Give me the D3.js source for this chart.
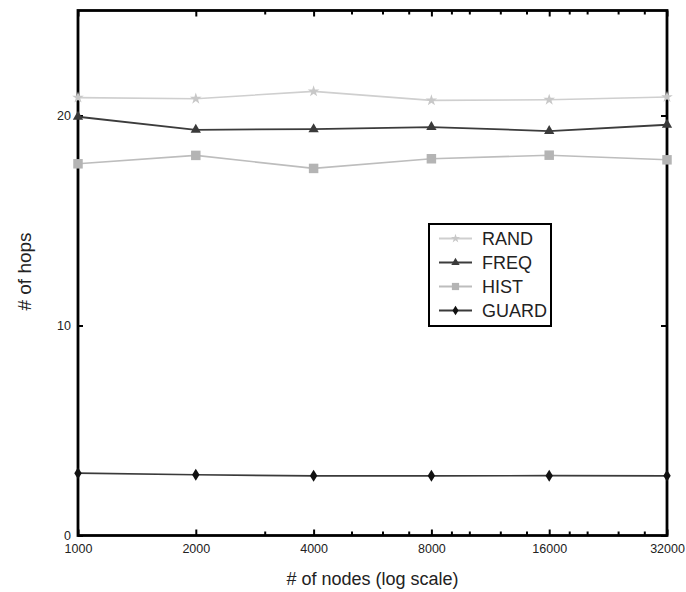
<!DOCTYPE html>
<html>
<head>
<meta charset="utf-8">
<script src="https://cdn.jsdelivr.net/npm/d3@7"></script>
<style>
  html, body { margin: 0; padding: 0; background: #fff; }
  svg { display: block; font-family: "Liberation Sans", Arial, sans-serif; }
</style>
</head>
<body>
<svg id="chart" width="686" height="592"></svg>
<script>
// Number of nodes on the x axis (log scale)
const nodes = [1000, 2000, 4000, 8000, 16000, 32000];
const majorTicks = [1000, 2000, 4000, 8000, 16000, 32000];
const minorTicks = [3000, 5000, 6000, 7000, 9000, 10000, 12000, 14000, 18000, 20000, 24000, 28000];
const yTicks = [0, 10, 20];

// Average number of hops per strategy
const seriesNames = ["RAND", "FREQ", "HIST", "GUARD"];
const randHops  = [20.85, 20.8, 21.15, 20.72, 20.75, 20.88];
const freqHops  = [19.94, 19.32, 19.35, 19.45, 19.26, 19.56];
const histHops  = [17.7, 18.1, 17.48, 17.94, 18.11, 17.89];
const guardHops = [2.97, 2.89, 2.84, 2.84, 2.85, 2.84];

const svg = d3.select("#chart");
const plot = { left: 78, right: 667, top: 10.5, bottom: 535.5 };

const x = d3.scaleLog().base(2).domain([1000, 32000]).range([plot.left, plot.right]);
const y = d3.scaleLinear().domain([0, 25]).range([plot.bottom, plot.top]);

// Marker shapes
const diamond = {
  draw(ctx, size) {
    const h = Math.sqrt(size) * 0.75, w = h * 0.62;
    ctx.moveTo(0, -h); ctx.lineTo(w, 0); ctx.lineTo(0, h); ctx.lineTo(-w, 0); ctx.closePath();
  }
};
const styles = [
  { name: "RAND",  values: randHops,  line: "#cfcfcf", fill: "#c8c8c8", width: 1.6, symbol: d3.symbolStar,     size: 42, lsize: 26 },
  { name: "FREQ",  values: freqHops,  line: "#3c3c3c", fill: "#3a3a3a", width: 1.8, symbol: d3.symbolTriangle, size: 46, lsize: 30 },
  { name: "HIST",  values: histHops,  line: "#bdbdbd", fill: "#b4b4b4", width: 1.6, symbol: d3.symbolSquare,   size: 90, lsize: 52 },
  { name: "GUARD", values: guardHops, line: "#3a3a3a", fill: "#111111", width: 1.6, symbol: diamond,           size: 64, lsize: 42 }
];

// Ticks on all four sides, pointing inward
const noDomain = s => s.select(".domain").remove();
svg.append("g").attr("transform", `translate(0,${plot.bottom})`)
  .call(d3.axisBottom(x).tickValues(majorTicks).tickSize(-6).tickPadding(9).tickFormat(d3.format("d")))
  .call(noDomain);
svg.append("g").attr("transform", `translate(0,${plot.bottom})`)
  .call(d3.axisBottom(x).tickValues(minorTicks).tickSize(-4).tickFormat(() => ""))
  .call(noDomain);
svg.append("g").attr("transform", `translate(0,${plot.top})`)
  .call(d3.axisTop(x).tickValues(majorTicks).tickSize(-6).tickFormat(() => ""))
  .call(noDomain);
svg.append("g").attr("transform", `translate(0,${plot.top})`)
  .call(d3.axisTop(x).tickValues(minorTicks).tickSize(-4).tickFormat(() => ""))
  .call(noDomain);

svg.append("g").attr("transform", `translate(${plot.left},0)`)
  .call(d3.axisLeft(y).tickValues(yTicks).tickSize(-5).tickPadding(7).tickFormat(d3.format("d")))
  .call(noDomain);
svg.append("g").attr("transform", `translate(${plot.right},0)`)
  .call(d3.axisRight(y).tickValues(yTicks).tickSize(-6).tickFormat(() => ""))
  .call(noDomain);

svg.selectAll(".tick line").attr("stroke", "#000").attr("stroke-width", 2);
svg.selectAll(".tick text").attr("font-size", 12.5).attr("fill", "#222")
  .attr("font-family", "'Liberation Sans', Arial, sans-serif");

// Plot frame
svg.append("rect")
  .attr("x", plot.left).attr("y", plot.top)
  .attr("width", plot.right - plot.left).attr("height", plot.bottom - plot.top)
  .attr("fill", "none").attr("stroke", "#000").attr("stroke-width", 2.8);

// Series lines and markers
const line = d3.line().x((d, i) => x(nodes[i])).y(d => y(d));
styles.forEach(s => {
  svg.append("path").datum(s.values)
    .attr("d", line).attr("fill", "none")
    .attr("stroke", s.line).attr("stroke-width", s.width);
  svg.append("g").selectAll("path").data(s.values).join("path")
    .attr("transform", (d, i) => `translate(${x(nodes[i])},${y(d)})`)
    .attr("d", d3.symbol(s.symbol, s.size))
    .attr("fill", s.fill);
});

// Axis titles
svg.append("text")
  .attr("x", (plot.left + plot.right) / 2).attr("y", 585)
  .attr("text-anchor", "middle").attr("font-size", 18).attr("fill", "#222")
  .text("# of nodes (log scale)");
svg.append("text")
  .attr("transform", "translate(31,271.5) rotate(-90)")
  .attr("text-anchor", "middle").attr("font-size", 19).attr("fill", "#222")
  .text("# of hops");

// Legend
const legend = svg.append("g");
legend.append("rect")
  .attr("x", 429).attr("y", 224).attr("width", 122).attr("height", 102)
  .attr("fill", "#fff").attr("stroke", "#000").attr("stroke-width", 2);
const ly = d3.scalePoint().domain(seriesNames).range([238.5, 310.5]);
styles.forEach(s => {
  const g = legend.append("g").attr("transform", `translate(0,${ly(s.name)})`);
  g.append("line").attr("x1", 439).attr("x2", 472)
    .attr("stroke", s.line).attr("stroke-width", 2);
  g.append("path").attr("transform", "translate(455.5,0)")
    .attr("d", d3.symbol(s.symbol, s.lsize)).attr("fill", s.fill);
  g.append("text").attr("x", 482).attr("y", 0).attr("dy", "0.36em")
    .attr("font-size", 18).attr("fill", "#222").text(s.name);
});
</script>
</body>
</html>
